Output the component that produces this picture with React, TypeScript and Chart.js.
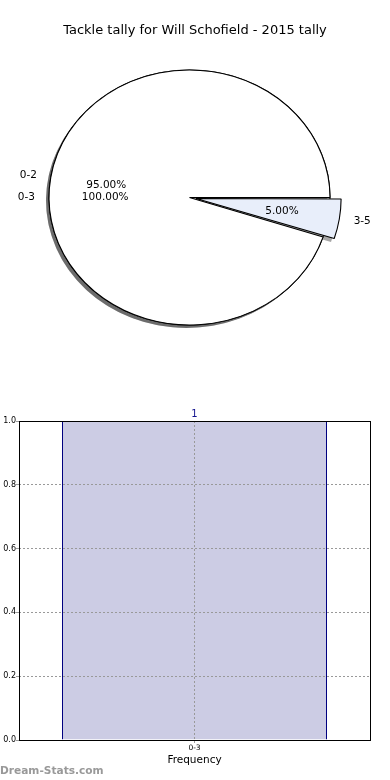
import React, { useEffect, useRef } from 'react';
import { Chart, registerables } from 'chart.js';

Chart.register(...registerables);

// ---------- data ----------
const chartTitle = 'Tackle tally for Will Schofield - 2015 tally';
const pieLabels = ['0-2', '3-5'];
const pieValues = [95, 5];
const overlayLabels = ['0-3'];
const overlayValues = [100];
const barLabels = ['0-3'];
const barValues = [1];
const barAxisTitle = 'Frequency';
const watermark = 'Dream-Stats.com';

// ---------- style ----------
const FONT = '"DejaVu Sans", sans-serif';
const SX = 1.102; // horizontal stretch of the pie (ellipse)
const DX = -5.5; // pie centre shift relative to the title centre
const PIE_R = 127.5;
const sliceColor: Record<string, string> = { '0-2': '#ffffff', '3-5': '#e8eefa', '0-3': '#ffffff' };
const sliceOffset: Record<string, number> = { '0-2': 0, '3-5': 24, '0-3': 0 };

function stretch(ctx: CanvasRenderingContext2D, cx: number, cy: number) {
  ctx.translate(cx + DX, cy);
  ctx.scale(SX, 1);
  ctx.translate(-cx, -cy);
}

function arcGeom(a: any) {
  const off = (a.options.offset || 0) / 4;
  const circ = a.endAngle - a.startAngle;
  const fix = 1 - Math.sin(Math.min(Math.PI, circ || 0));
  const mid = (a.startAngle + a.endAngle) / 2;
  return { off, mid, r: a.outerRadius + off * fix, circ };
}

function makePiePlugin(labelSources: () => any[]) {
  return {
    id: 'mplPie',
    beforeDatasetsDraw(chart: any) {
      const ctx: CanvasRenderingContext2D = chart.ctx;
      const arcs = chart.getDatasetMeta(0).data as any[];
      const cx = chart.chartArea.left + (chart.chartArea.right - chart.chartArea.left) / 2;
      const cy = chart.chartArea.top + (chart.chartArea.bottom - chart.chartArea.top) / 2;
      ctx.save();
      ctx.translate(-3, 3);
      stretch(ctx, cx, cy);
      ctx.fillStyle = 'rgba(0,0,0,0.35)';
      for (const a of arcs) {
        const g = arcGeom(a);
        const ox = a.x + Math.cos(g.mid) * g.off;
        const oy = a.y + Math.sin(g.mid) * g.off;
        ctx.beginPath();
        if (g.circ >= 2 * Math.PI - 1e-6) {
          ctx.arc(ox, oy, g.r, 0, 2 * Math.PI);
        } else {
          ctx.moveTo(ox, oy);
          ctx.arc(ox, oy, g.r, a.startAngle, a.endAngle);
          ctx.closePath();
        }
        ctx.fill();
      }
      ctx.restore();
      ctx.save();
      stretch(ctx, cx, cy);
    },
    afterDatasetsDraw(chart: any) {
      const ctx: CanvasRenderingContext2D = chart.ctx;
      ctx.restore();
      ctx.save();
      ctx.font = `10.5px ${FONT}`;
      ctx.fillStyle = '#000';
      ctx.textBaseline = 'middle';
      for (const src of labelSources()) {
        const arcs = src.getDatasetMeta(0).data as any[];
        const labels = src.data.labels as string[];
        const data = src.data.datasets[0].data as number[];
        const total = data.reduce((s, v) => s + v, 0);
        arcs.forEach((a, i) => {
          const g = arcGeom(a);
          const c = Math.cos(g.mid), s = Math.sin(g.mid);
          const px = (d: number) => a.x + DX + c * (g.off + g.r * d) * SX;
          const py = (d: number) => a.y + s * (g.off + g.r * d);
          ctx.textAlign = c < 0 ? 'right' : 'left';
          ctx.fillText(labels[i], px(1.1), py(1.1));
          ctx.textAlign = 'center';
          ctx.fillText(((data[i] / total) * 100).toFixed(2) + '%', px(0.6), py(0.6));
        });
      }
      ctx.restore();
    },
  };
}

const barPlugin = {
  id: 'mplBar',
  afterDatasetsDraw(chart: any) {
    const ctx: CanvasRenderingContext2D = chart.ctx;
    const meta = chart.getDatasetMeta(0);
    const data = chart.data.datasets[0].data as number[];
    ctx.save();
    ctx.font = `10px ${FONT}`;
    ctx.fillStyle = '#14148f';
    ctx.textAlign = 'center';
    ctx.textBaseline = 'bottom';
    meta.data.forEach((b: any, i: number) => {
      ctx.fillText(String(data[i]), b.x, b.y - 2);
    });
    ctx.restore();
  },
  afterDraw(chart: any) {
    const ctx: CanvasRenderingContext2D = chart.ctx;
    const { left, right, top, bottom } = chart.chartArea;
    ctx.save();
    ctx.strokeStyle = '#000';
    ctx.lineWidth = 1;
    ctx.strokeRect(Math.round(left) + 0.5, Math.round(top) + 0.5, Math.round(right - left), Math.round(bottom - top));
    ctx.font = `10.5px ${FONT}`;
    ctx.fillStyle = '#000';
    ctx.textAlign = 'center';
    ctx.textBaseline = 'middle';
    ctx.fillText(barAxisTitle, (left + right) / 2, 380);
    ctx.font = `bold 10.6px ${FONT}`;
    ctx.fillStyle = '#999999';
    ctx.textAlign = 'left';
    ctx.fillText(watermark, 0, 391);
    ctx.restore();
  },
};

function pieConfig(labels: string[], values: number[], withTitle: boolean, labelSources: () => any[]): any {
  const lab = [...labels].reverse();
  const val = [...values].reverse();
  return {
    type: 'pie',
    data: {
      labels: lab,
      datasets: [
        {
          data: val,
          backgroundColor: lab.map((l) => sliceColor[l]),
          offset: lab.map((l) => sliceOffset[l]),
          borderColor: '#000',
          borderWidth: 1,
          radius: PIE_R,
          rotation: 90,
        },
      ],
    },
    options: {
      responsive: false,
      animation: false,
      events: [],
      layout: { padding: { left: 0, right: 0, top: withTitle ? 0 : 38.6, bottom: 23.6 } },
      plugins: {
        legend: { display: false },
        tooltip: { enabled: false },
        title: {
          display: withTitle,
          text: chartTitle,
          color: '#000',
          font: { family: FONT, size: 13, weight: 'normal', lineHeight: 1.2 },
          padding: { top: 23, bottom: 0 },
        },
      },
    },
    plugins: [makePiePlugin(labelSources)],
  };
}

function barConfig(): any {
  const tickFont = { family: FONT, size: 8 };
  return {
    type: 'bar',
    data: {
      labels: barLabels,
      datasets: [
        {
          data: barValues,
          backgroundColor: '#cccce4',
          borderColor: '#000080',
          borderWidth: 1,
          barPercentage: 0.755,
          categoryPercentage: 1,
        },
      ],
    },
    options: {
      responsive: false,
      animation: false,
      events: [],
      layout: { padding: { left: 0, right: 20, top: 41, bottom: 0 } },
      plugins: { legend: { display: false }, tooltip: { enabled: false }, title: { display: false } },
      scales: {
        x: {
          offset: true,
          grid: { offset: false, color: '#999999', lineWidth: 1, drawTicks: true, tickLength: 3, tickColor: '#999', z: 1 },
          border: { display: false, dash: [2, 2] },
          ticks: { font: { family: FONT, size: 7.5 }, color: '#000', padding: 1 },
          afterFit: (s: any) => { s.height = 40; },
        },
        y: {
          min: 0,
          max: 1,
          ticks: { stepSize: 0.2, font: tickFont, color: '#000', padding: 0, callback: (v: any) => Number(v).toFixed(1) },
          grid: { color: '#999999', lineWidth: 1, drawTicks: true, tickLength: 3, tickColor: '#999', z: 1 },
          border: { display: false, dash: [2, 2] },
          afterFit: (s: any) => { s.width = 19; },
        },
      },
    },
    plugins: [barPlugin],
  };
}

export default function App() {
  const baseRef = useRef<HTMLCanvasElement>(null);
  const topRef = useRef<HTMLCanvasElement>(null);
  const barRef = useRef<HTMLCanvasElement>(null);

  useEffect(() => {
    const base = new Chart(baseRef.current!, pieConfig(overlayLabels, overlayValues, true, () => []));
    let top: any = null;
    top = new Chart(topRef.current!, pieConfig(pieLabels, pieValues, false, () => (top ? [base, top] : [base])));
    top.update('none');
    const bar = new Chart(barRef.current!, barConfig());
    const charts = [base, top, bar];
    return () => charts.forEach((c) => c.destroy());
  }, []);

  const abs = (t: number): React.CSSProperties => ({ position: 'absolute', left: 0, top: t, display: 'block' });

  return (
    <div style={{ position: 'absolute', left: 0, top: 0, width: 390, height: 780, background: '#fff', overflow: 'hidden' }}>
      <canvas ref={baseRef} width={390} height={380} style={abs(0)} />
      <canvas ref={topRef} width={390} height={380} style={abs(0)} />
      <canvas ref={barRef} width={390} height={400} style={abs(380)} />
    </div>
  );
}
